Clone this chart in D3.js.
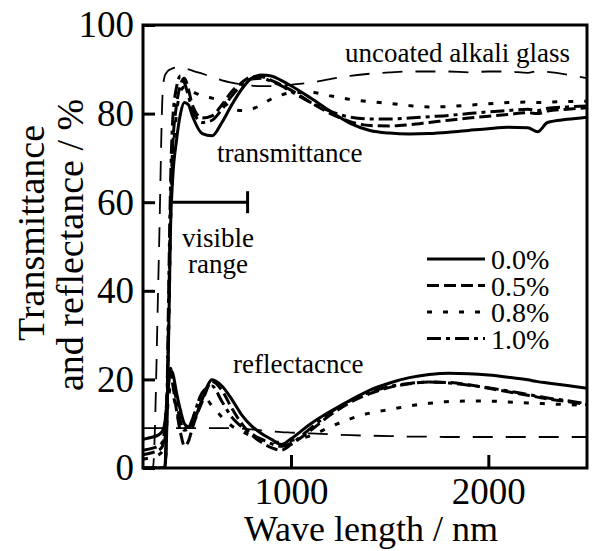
<!DOCTYPE html>
<html>
<head>
<meta charset="utf-8">
<script src="https://cdn.jsdelivr.net/npm/d3@7"></script>
<style>
	body { margin: 0; background: #fff; }
	svg { font-family: "Liberation Serif", "Times New Roman", serif; }
	svg text { fill: #000; }
	.series { fill: none; stroke: #000; }
</style>
</head>
<body>
<script>
const WIDTH = 592;
const HEIGHT = 551;
const LEFT = 143, RIGHT = 587, TOP = 25, BOTTOM = 468;

// wavelength grid (nm) shared by all spectra
var wavelengths = [250, 300, 330, 350, 360, 370, 380, 390, 400, 420, 440, 460, 480, 500, 550, 600, 650, 700, 750, 800,
	850, 900, 950, 1000, 1100, 1200, 1300, 1400, 1500, 1600, 1700, 1800, 1900, 2000, 2100, 2200, 2250, 2300, 2400, 2500];

// transmittance (%)
var trans00 = [0, 0, 0, 0, 0, 8, 30, 55, 65, 74, 80, 82.5, 82, 79.5, 75.5, 75, 78, 82, 85.5, 88,
	88.7, 88.5, 87.5, 86.3, 83.5, 80.5, 77.8, 76.2, 75.6, 75.4, 75.5, 75.8, 76.2, 76.6, 76.9, 76.8, 75.9, 78, 78.7, 79.2];
var trans05 = [0, 0, 0, 0, 0, 10, 35, 60, 72, 82, 86.5, 88, 85.5, 82, 79, 79.5, 82, 85, 87, 88.3,
	88.3, 87.5, 86.5, 85.3, 82.5, 80, 78.2, 77.3, 77.2, 77.5, 78, 78.5, 79, 79.4, 79.8, 80.2, 80, 80.6, 81, 81.3];
var trans08 = [0, 0, 0, 0, 0, 8, 30, 55, 68, 80, 85, 86, 85.5, 85, 84, 83.5, 83, 81, 80.7, 81,
	82, 83.3, 84.2, 84.7, 84.8, 84, 83.2, 82.7, 82.3, 81.8, 81.5, 81.6, 81.9, 82.2, 82.5, 82.6, 82.5, 82.6, 82.7, 82.8];
var trans10 = [0, 0, 0, 0, 0, 12, 40, 65, 78, 86, 88.5, 87, 84, 81, 78, 78.5, 81, 84, 86.5, 87.8,
	88, 87.3, 86.3, 85, 82.5, 80.5, 79.2, 78.8, 78.8, 79, 79.3, 79.6, 80, 80.4, 80.7, 81, 80.7, 81.2, 81.5, 81.7];
var transGlass = [0, 0, 47, 85, 88.5, 89.3, 89.8, 90, 90.2, 90.4, 90.4, 90.2, 90, 89.7, 89, 88.3, 87.5, 87, 86.6, 86.3,
	86.2, 86.2, 86.3, 86.5, 87, 87.8, 88.5, 89, 89.3, 89.5, 89.5, 89.5, 89.3, 89.5, 89.5, 89.2, 89.6, 89.4, 88.8, 88];

// reflectance (%)
var refl00 = [6.5, 7, 7.5, 8.5, 10, 14, 19, 22, 21.5, 17, 13, 10, 9.3, 10, 15.5, 19.9, 18.5, 15.5, 12, 9.5,
	7.8, 6.5, 5.3, 6.6, 10, 12.8, 15.3, 17.6, 19.2, 20.4, 21.1, 21.4, 21.3, 21, 20.5, 19.9, 19.5, 19.2, 18.6, 18];
var refl05 = [3, 3.5, 4, 5, 8, 14, 20, 21, 19, 13, 8, 5, 6, 9, 15, 19.5, 17.5, 13.5, 10, 7.5,
	5.8, 4.6, 4, 5.3, 8.5, 12, 14.8, 16.8, 18.2, 19, 19.4, 19.3, 18.8, 18, 17.2, 16.4, 16, 15.6, 15, 14.3];
var refl08 = [2, 2.5, 3, 4, 6, 11, 16, 18, 17, 13, 10, 9, 9.5, 11, 16.5, 14, 11.5, 9.5, 8.3, 7.2,
	6.3, 5.8, 5.8, 6.2, 7.3, 9.3, 11.1, 12.4, 13.2, 14, 14.6, 15, 15.1, 15.1, 14.9, 14.7, 14.6, 14.5, 14.3, 14.1];
var refl10 = [4, 4.5, 5, 6, 9, 15, 21, 22.5, 20.5, 15, 10.5, 8.5, 9, 11, 17, 18.5, 15, 11.5, 9.3, 7.7,
	6.5, 5.5, 4.9, 5.6, 9, 12.5, 15.2, 17.1, 18.4, 19.1, 19.4, 19.2, 18.7, 18.1, 17.4, 16.6, 16.2, 15.8, 15.2, 14.5];
var reflGlass = [9, 9, 9, 9, 9, 9, 9, 9, 9, 9, 9, 9, 9, 9, 9, 9, 9, 9, 8.9, 8.7,
	8.5, 8.3, 8.1, 8, 7.8, 7.6, 7.4, 7.3, 7.2, 7.1, 7.1, 7, 7, 7, 7, 7, 7, 7, 7, 7];

var legendLabels = ['0.0%', '0.5%', '0.8%', '1.0%'];
var dashes = [null, '12,5', '5,11', '14,5,4,5'];
var yTicks = [0, 20, 40, 60, 80, 100];
var xTicks = [1000, 2000];
var visibleRange = [385, 780];
var visibleLevel = 60;

var _xScale, _yScale;

var toPoints = function(values){
	return values.map(function(v, i){ return {x: wavelengths[i], y: v}; });
}

var createSvg = function(){
	var svg = d3.select('body').append('svg')
		.attr('width', WIDTH)
		.attr('height', HEIGHT);

	_xScale = d3.scaleLinear().domain([250, 2500]).range([LEFT, RIGHT]);
	_yScale = d3.scaleLinear().domain([0, 100]).range([BOTTOM, TOP]);

	svg.append('clipPath').attr('id', 'plot-clip')
		.append('rect')
		.attr('x', LEFT).attr('y', TOP)
		.attr('width', RIGHT - LEFT).attr('height', BOTTOM - TOP);

	var yAxis = d3.axisLeft(_yScale).tickValues(yTicks).tickSizeInner(-12).tickSizeOuter(0).tickPadding(9);
	var gy = svg.append('g')
		.attr('transform', 'translate(' + LEFT + ',0)')
		.call(yAxis);

	var xAxis = d3.axisBottom(_xScale).tickValues(xTicks).tickFormat(d3.format('d')).tickSizeInner(-13).tickSizeOuter(0).tickPadding(10);
	var gx = svg.append('g')
		.attr('transform', 'translate(0,' + BOTTOM + ')')
		.call(xAxis);

	[gx, gy].forEach(function(g){
		g.select('.domain').remove();
		g.selectAll('line').attr('stroke', '#000').attr('stroke-width', 3);
		g.selectAll('text').attr('fill', '#000').style('font-size', '37px').style('font-family', '"Liberation Serif", serif');
	});

	svg.append('rect')
		.attr('x', LEFT).attr('y', TOP)
		.attr('width', RIGHT - LEFT).attr('height', BOTTOM - TOP)
		.attr('fill', 'none').attr('stroke', '#000').attr('stroke-width', 3);

	svg.append('text')
		.attr('x', 371).attr('y', 541)
		.attr('text-anchor', 'middle')
		.style('font-size', '36px')
		.text('Wave length / nm');

	svg.append('text')
		.attr('transform', 'translate(44,233) rotate(-90)')
		.attr('text-anchor', 'middle')
		.style('font-size', '38px')
		.text('Transmittance');
	svg.append('text')
		.attr('transform', 'translate(83,245) rotate(-90)')
		.attr('text-anchor', 'middle')
		.style('font-size', '38px')
		.text('and reflectance / %');
}

var drawSpectra = function(){
	var svg = d3.select('svg');
	var plot = svg.append('g').attr('clip-path', 'url(#plot-clip)');

	var line = d3.line()
		.x(function(d){ return _xScale(d.x); })
		.y(function(d){ return _yScale(d.y); })
		.curve(d3.curveMonotoneX);

	// uncoated glass: thin long dashes
	[transGlass, reflGlass].forEach(function(vals){
		plot.append('path').classed('series', true)
			.attr('d', line(toPoints(vals)))
			.attr('stroke-width', 1.8)
			.attr('stroke-dasharray', '20,13');
	});

	var trans = [trans00, trans05, trans08, trans10];
	var refl = [refl00, refl05, refl08, refl10];
	for (var i = 0; i < 4; i++) {
		[trans[i], refl[i]].forEach(function(vals){
			plot.append('path').classed('series', true)
				.attr('d', line(toPoints(vals)))
				.attr('stroke-width', 3)
				.attr('stroke-dasharray', dashes[i]);
		});
	}

	// visible range bar
	var vy = _yScale(visibleLevel);
	svg.append('line')
		.attr('x1', _xScale(visibleRange[0])).attr('x2', _xScale(visibleRange[1]))
		.attr('y1', vy).attr('y2', vy)
		.attr('stroke', '#000').attr('stroke-width', 3);
	svg.append('line')
		.attr('x1', _xScale(visibleRange[1])).attr('x2', _xScale(visibleRange[1]))
		.attr('y1', vy - 11).attr('y2', vy + 11)
		.attr('stroke', '#000').attr('stroke-width', 3);
}

var drawLabels = function(){
	var svg = d3.select('svg');
	var notes = [
		{t: 'uncoated alkali glass', x: 345, y: 62, a: 'start'},
		{t: 'transmittance', x: 217, y: 162, a: 'start'},
		{t: 'visible', x: 218, y: 247, a: 'middle'},
		{t: 'range', x: 218, y: 273, a: 'middle'},
		{t: 'reflectacnce', x: 233, y: 373, a: 'start'}
	];
	svg.selectAll('text.note').data(notes).enter()
		.append('text').classed('note', true)
		.attr('x', function(d){ return d.x; })
		.attr('y', function(d){ return d.y; })
		.attr('text-anchor', function(d){ return d.a; })
		.style('font-size', '27px')
		.text(function(d){ return d.t; });

	var legend = svg.append('g');
	legendLabels.forEach(function(lab, i){
		var y = 259 + i * 26.5;
		legend.append('line')
			.attr('x1', 427).attr('x2', 485)
			.attr('y1', y).attr('y2', y)
			.attr('stroke', '#000').attr('stroke-width', 3)
			.attr('stroke-dasharray', dashes[i]);
		legend.append('text')
			.attr('x', 491).attr('y', y + 10)
			.style('font-size', '28px')
			.text(lab);
	});
}

window.onload = function(){
	createSvg();
	drawSpectra();
	drawLabels();
}
</script>
</body>
</html>
